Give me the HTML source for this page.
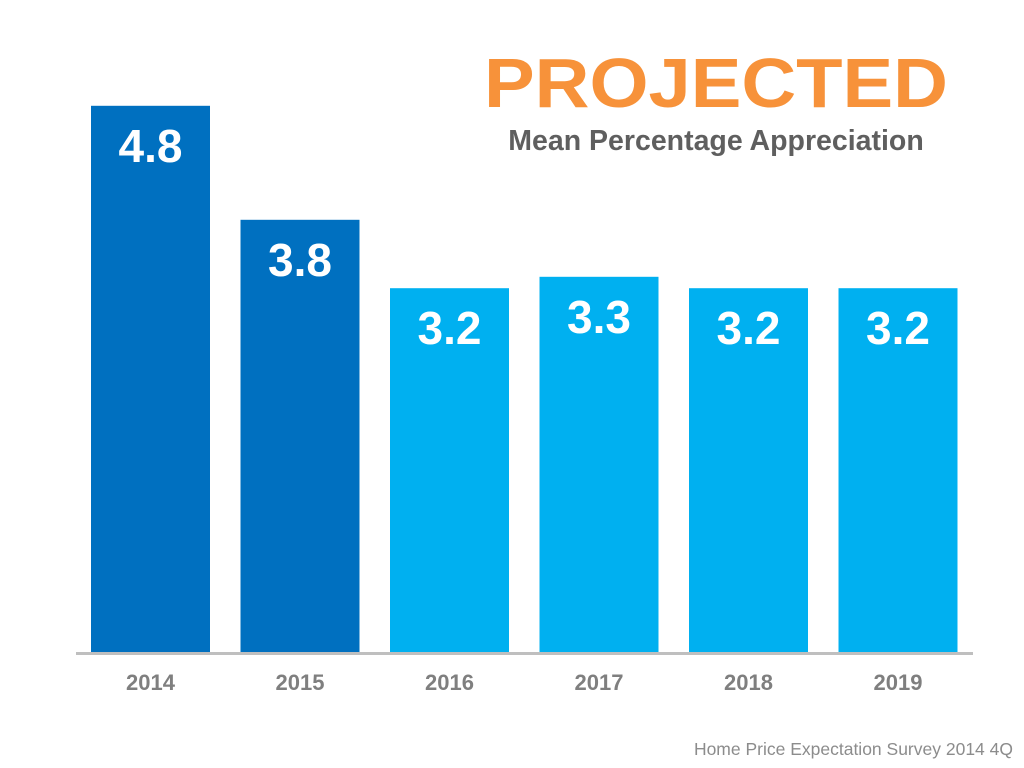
<!DOCTYPE html>
<html><head><meta charset="utf-8"><style>
html,body{margin:0;padding:0;background:#fff;width:1024px;height:768px;overflow:hidden;font-family:"Liberation Sans",Arial,sans-serif}
</style></head><body>
<svg width="1024" height="768">
<text x="716" y="107" text-anchor="middle" font-size="70" font-weight="bold" fill="#F7923A" textLength="464" lengthAdjust="spacingAndGlyphs">PROJECTED</text>
<text x="716" y="150" text-anchor="middle" font-size="28.5" font-weight="bold" fill="#5f5f5f">Mean Percentage Appreciation</text>
<g id="bars"></g>
<rect x="76" y="652" width="897" height="3" fill="#bfbfbf"/>
<text x="1013" y="755" text-anchor="end" font-size="17.5" fill="#8c8c8c">Home Price Expectation Survey 2014 4Q</text>
</svg>
<script>
const categories=["2014","2015","2016","2017","2018","2019"];
const values=[4.8,3.8,3.2,3.3,3.2,3.2];
const labels=["4.8","3.8","3.2","3.3","3.2","3.2"];
const projected=[false,false,true,true,true,true];
const base=653, scale=114, x0=91, step=149.5, bw=119;
const y=v=>base-v*scale;
const g=document.getElementById('bars');
const ns="http://www.w3.org/2000/svg";
categories.forEach((c,i)=>{
  const x=x0+i*step, top=y(values[i]);
  const r=document.createElementNS(ns,'rect');
  r.setAttribute('x',x);r.setAttribute('y',top);r.setAttribute('width',bw);r.setAttribute('height',base-top);
  r.setAttribute('fill',projected[i]?'#00B0F0':'#0070C0');
  
  
  g.appendChild(r);
  const t=document.createElementNS(ns,'text');
  t.setAttribute('x',x+bw/2);t.setAttribute('y',top+56);t.setAttribute('text-anchor','middle');
  t.setAttribute('font-size','46');t.setAttribute('font-weight','bold');t.setAttribute('fill','#fff');
  t.textContent=labels[i];
  
  
  g.appendChild(t);
  const l=document.createElementNS(ns,'text');
  l.setAttribute('x',x+bw/2);l.setAttribute('y',690);l.setAttribute('text-anchor','middle');
  l.setAttribute('font-size','22');l.setAttribute('font-weight','bold');l.setAttribute('fill','#7f7f7f');
  l.textContent=c;
  
  
  g.appendChild(l);
});
</script>
</body></html>
